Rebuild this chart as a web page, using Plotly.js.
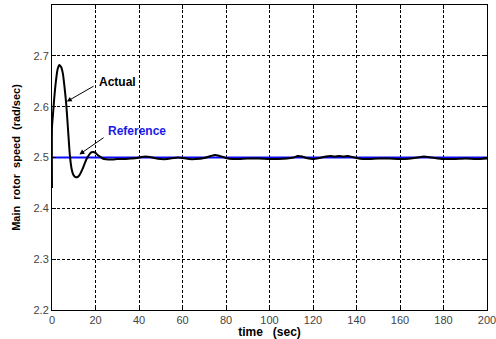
<!DOCTYPE html>
<html>
<head>
<meta charset="utf-8">
<script src="https://cdn.plot.ly/plotly-3.0.1.min.js"></script>
<style>html,body{margin:0;padding:0;background:#fff;}#chart{width:496px;height:339px;}</style>
</head>
<body>
<div id="chart"></div>
<script>
// Actual main rotor speed (rad/sec) vs time (sec)
const timeActual = [0, 0, 0.4, 1, 1.8, 2.6, 3.4, 4.2, 5, 5.8, 6.6, 7.4, 8.2, 9, 9.8, 10.6, 11.4, 12.2, 13, 14, 15, 16, 17, 18, 19, 20, 21, 22, 23, 24, 26, 28, 30, 33, 36, 39, 41, 43, 45, 47, 50, 53, 56, 58, 60, 63, 66, 70, 73, 75, 77, 80, 83, 86, 90, 95, 100, 104, 108, 111, 113, 115, 117, 120, 123, 126, 128, 130, 132, 134, 136, 138, 140, 143, 146, 150, 155, 160, 165, 168, 171, 173, 176, 180, 185, 190, 195, 200];
const speedActual = [2.44, 2.56, 2.582, 2.615, 2.65, 2.674, 2.682, 2.678, 2.665, 2.637, 2.602, 2.553, 2.505, 2.478, 2.466, 2.462, 2.461, 2.463, 2.468, 2.477, 2.488, 2.498, 2.505, 2.51, 2.511, 2.509, 2.505, 2.502, 2.499, 2.497, 2.496, 2.496, 2.497, 2.497, 2.498, 2.499, 2.501, 2.502, 2.501, 2.499, 2.497, 2.497, 2.499, 2.5, 2.499, 2.497, 2.497, 2.499, 2.503, 2.505, 2.503, 2.499, 2.497, 2.497, 2.498, 2.498, 2.497, 2.497, 2.498, 2.5, 2.503, 2.502, 2.499, 2.497, 2.499, 2.502, 2.503, 2.502, 2.503, 2.502, 2.503, 2.501, 2.499, 2.497, 2.497, 2.498, 2.498, 2.497, 2.498, 2.5, 2.502, 2.501, 2.499, 2.497, 2.497, 2.498, 2.497, 2.498];
// Reference speed
const timeReference = [0, 200];
const speedReference = [2.5, 2.5];
// Axis ticks
const xTicks = [0, 20, 40, 60, 80, 100, 120, 140, 160, 180, 200];
const yTicks = [2.2, 2.3, 2.4, 2.5, 2.6, 2.7];
const yTickLabels = ['2.2', '2.3', '2.4', '2.5', '2.6', '2.7'];
// Labels
const labelActual = 'Actual';
const labelReference = 'Reference';

const traces = [
  {x: timeReference, y: speedReference, type: 'scatter', mode: 'lines', name: labelReference,
   line: {color: '#0a0aff', width: 2}},
  {x: timeActual, y: speedActual, type: 'scatter', mode: 'lines', name: labelActual,
   line: {color: '#000000', width: 2, shape: 'spline', smoothing: 0.6}}
];

const axisCommon = {
  showline: true, linecolor: '#000', linewidth: 1, mirror: 'ticks',
  ticks: 'inside', ticklen: 4, tickcolor: '#000',
  showgrid: true, gridcolor: '#000', gridwidth: 1, griddash: '3px,2px',
  zeroline: false, ticklabeloverflow: 'allow',
  tickfont: {family: 'Liberation Sans, Arial, sans-serif', size: 11, color: '#444'}
};

const layout = {
  width: 496, height: 339,
  margin: {l: 52, r: 9, t: 5, b: 29},
  paper_bgcolor: '#fff', plot_bgcolor: '#fff',
  showlegend: false,
  xaxis: Object.assign({}, axisCommon, {
    range: [0, 200], tickvals: xTicks, ticktext: xTicks.map(String),
    title: {text: 'time\u00a0\u00a0\u00a0(sec)', standoff: 4,
            font: {family: 'Liberation Sans, Arial, sans-serif', size: 12, color: '#000', weight: 'bold'}}
  }),
  yaxis: Object.assign({}, axisCommon, {
    range: [2.2, 2.8], tickvals: yTicks, ticktext: yTickLabels,
    title: {text: 'Main\u00a0\u00a0rotor\u00a0\u00a0speed\u00a0\u00a0(rad/sec)', standoff: 10,
            font: {family: 'Liberation Sans, Arial, sans-serif', size: 11, color: '#000', weight: 'bold'}}
  }),
  annotations: [
    {x: 6.8, y: 2.61, ax: 19.8, ay: 2.642, axref: 'x', ayref: 'y', xref: 'x', yref: 'y',
     text: '', showarrow: true, arrowhead: 2, arrowsize: 1, arrowwidth: 1, arrowcolor: '#000'},
    {x: 20.7, y: 2.649, xref: 'x', yref: 'y', text: labelActual, showarrow: false, xanchor: 'left', yanchor: 'middle',
     font: {family: 'Liberation Sans, Arial, sans-serif', size: 12, color: '#000', weight: 'bold'}},
    {x: 12.6, y: 2.506, ax: 24.4, ay: 2.541, axref: 'x', ayref: 'y', xref: 'x', yref: 'y',
     text: '', showarrow: true, arrowhead: 2, arrowsize: 1, arrowwidth: 1, arrowcolor: '#000'},
    {x: 24.7, y: 2.553, xref: 'x', yref: 'y', text: labelReference, showarrow: false, xanchor: 'left', yanchor: 'middle',
     font: {family: 'Liberation Sans, Arial, sans-serif', size: 12, color: '#1a1ae6', weight: 'bold'}}
  ]
};

Plotly.newPlot('chart', traces, layout, {displayModeBar: false, staticPlot: true});
</script>
</body>
</html>
